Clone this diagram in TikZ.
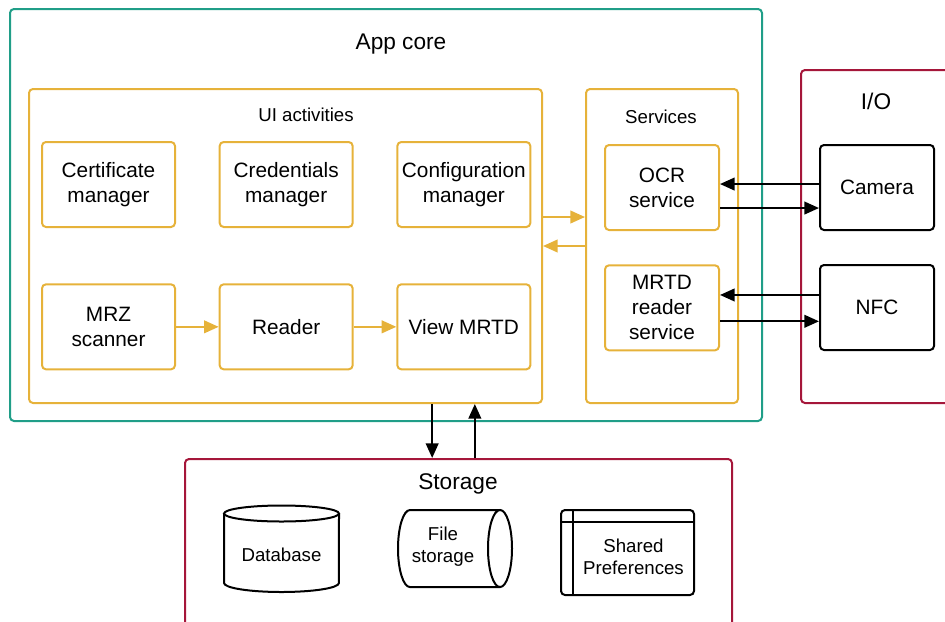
\documentclass[tikz,border=0pt]{standalone}
\usepackage{fontspec}
\setmainfont{Liberation Sans}
\usetikzlibrary{positioning,arrows.meta,calc}

\definecolor{coregreen}{RGB}{32,158,136}
\definecolor{uiyellow}{RGB}{230,178,58}
\definecolor{iored}{RGB}{165,22,58}

\begin{document}
\begin{tikzpicture}[
    x=0.75pt, y=-0.75pt,
    group/.style={rectangle, rounded corners=3pt, line width=1.5pt, inner sep=0pt},
    comp/.style={rectangle, draw=uiyellow, rounded corners=3pt, line width=1.5pt, minimum width=99.75pt, minimum height=63.75pt, align=center, inner sep=0pt, font=\fontsize{15.6}{18.7}\selectfont},
    service/.style={comp, minimum width=85.5pt},
    device/.style={comp, draw=black, minimum width=85.5pt},
    title/.style={font=\fontsize{17}{20}\selectfont},
    subtitle/.style={font=\fontsize{14}{16.8}\selectfont},
    store/.style={align=center, font=\fontsize{14}{16.3}\selectfont},
    shape line/.style={line width=1.5pt},
    arrow/.style={-{Triangle[length=11pt,width=9.5pt]}, line width=1.5pt},
    flow/.style={arrow, draw=uiyellow}
]
    \useasboundingbox (0,0) rectangle (945,621);
    \clip (0,0) rectangle (945,621);

    \node[group, draw=coregreen, minimum width=564pt, minimum height=309pt] (core) at (386,215) {};
    \node[title] (coretitle) at (401,44) {App core};

    \node[group, draw=uiyellow, minimum width=384.75pt, minimum height=235.5pt] (ui) at (285.5,246) {};
    \node[subtitle] (uititle) at (306,115) {UI activities};

    \node[group, draw=uiyellow, minimum width=114pt, minimum height=235.5pt] (svc) at (662,246) {};
    \node[subtitle] (svctitle) at (661,117) {Services};

    \node[group, draw=iored, minimum width=123pt, minimum height=249.75pt] (io) at (883,236.5) {};
    \node[title] (iotitle) at (876,101) {I/O};

    \node[group, draw=iored, minimum width=410.25pt, minimum height=135.75pt] (store) at (458.5,549.5) {};
    \node[title] (storetitle) at (458,484) {Storage};

    \node[comp] (cert) at (108.5,184.5) {Certificate\\manager};
    \node[comp, right=32pt of cert] (cred) {Credentials\\manager};
    \node[comp, right=32pt of cred] (conf) {Configuration\\manager};

    \node[comp, below=41.5pt of cert] (mrz) {MRZ\\scanner};
    \node[comp, right=32pt of mrz] (reader) {Reader};
    \node[comp, right=32pt of reader] (view) {View MRTD};

    \node[service] (ocr) at (662,187.5) {OCR\\service};
    \node[service, below=25pt of ocr] (mrtd) {MRTD\\reader\\service};

    \node[device] (cam) at (877,187.5) {Camera};
    \node[device] (nfc) at (877,307.5) {NFC};

    \draw[flow] (mrz) -- (reader);
    \draw[flow] (reader) -- (view);
    \draw[flow] ([yshift=21.75pt]ui.east) -- ([yshift=21.75pt]ui.east -| svc.west);
    \draw[flow] (svc.west |- ui.east) -- (ui.east);

    \draw[arrow] ([yshift=2.6pt]cam.west) -- ([yshift=2.6pt]cam.west -| ocr.east);
    \draw[arrow] ([yshift=-15.4pt]ocr.east) -- ([yshift=-15.4pt]ocr.east -| cam.west);
    \draw[arrow] ([yshift=9.4pt]nfc.west) -- ([yshift=9.4pt]nfc.west -| mrtd.east);
    \draw[arrow] ([yshift=-10.1pt]mrtd.east) -- ([yshift=-10.1pt]mrtd.east -| nfc.west);

    \draw[arrow] ([xshift=110pt]ui.south) -- ([xshift=110pt]ui.south |- store.north);
    \draw[arrow] ([xshift=142pt]ui.south |- store.north) -- ([xshift=142pt]ui.south);

    % storage shapes
    \draw[shape line] (224,513.5) -- (224,583) arc[start angle=180, end angle=360, x radius=43.1pt, y radius=6.75pt] -- (339,513.5);
    \draw[shape line] (281.5,513.5) ellipse[x radius=43.1pt, y radius=6pt];
    \draw[shape line] (410,510) -- (500,510) (500,548.5) ellipse[x radius=9pt, y radius=28.9pt]
        (410,510) arc[start angle=90, end angle=270, x radius=9pt, y radius=28.9pt] -- (500,587);
    \draw[shape line, rounded corners=3pt] (561,510) rectangle (694,595);
    \draw[shape line] (573,510) -- (573,595) (561,522) -- (694,522);

    \node[store] (db) at (281.5,555) {Database};
    \node[store] (files) at (443,547) {File\\storage};
    \node[store] (prefs) at (633.5,557) {Shared\\Preferences};
\end{tikzpicture}
\end{document}
